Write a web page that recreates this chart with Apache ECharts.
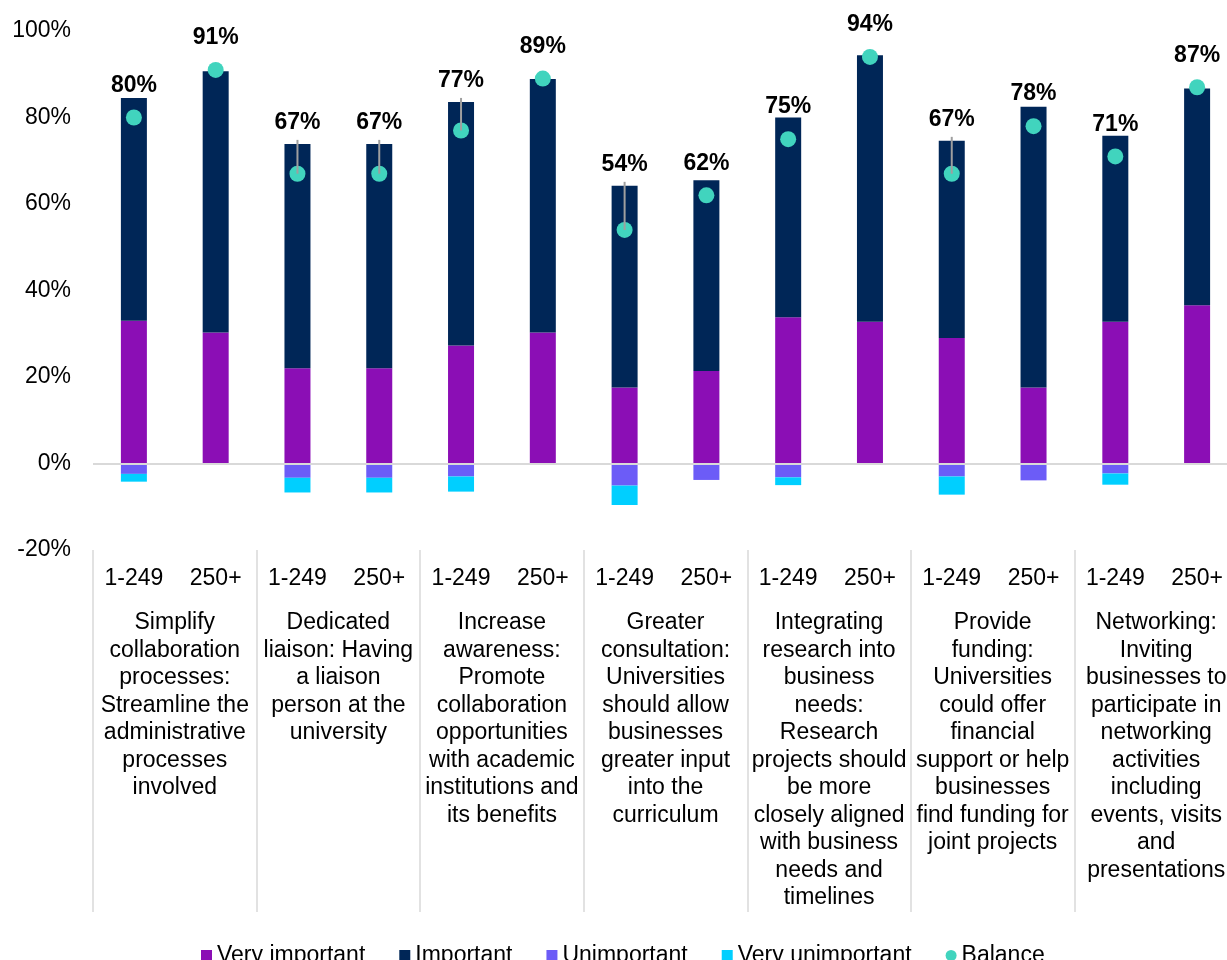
<!DOCTYPE html>
<html>
<head>
<meta charset="utf-8">
<script src="https://cdn.jsdelivr.net/npm/echarts@6/dist/echarts.min.js"></script>
<style>
html,body{margin:0;padding:0;background:#fff;}
#chart{width:1227px;height:960px;}
</style>
</head>
<body>
<div id="chart"></div>
<script>
// ---- data ----
var groups = [
  'Simplify\ncollaboration\nprocesses:\nStreamline the\nadministrative\nprocesses\ninvolved',
  'Dedicated\nliaison: Having\na liaison\nperson at the\nuniversity',
  'Increase\nawareness:\nPromote\ncollaboration\nopportunities\nwith academic\ninstitutions and\nits benefits',
  'Greater\nconsultation:\nUniversities\nshould allow\nbusinesses\ngreater input\ninto the\ncurriculum',
  'Integrating\nresearch into\nbusiness\nneeds:\nResearch\nprojects should\nbe more\nclosely aligned\nwith business\nneeds and\ntimelines',
  'Provide\nfunding:\nUniversities\ncould offer\nfinancial\nsupport or help\nbusinesses\nfind funding for\njoint projects',
  'Networking:\nInviting\nbusinesses to\nparticipate in\nnetworking\nactivities\nincluding\nevents, visits\nand\npresentations'
];
var sizes = ['1-249', '250+'];
var veryImportant   = [33.0, 30.3, 22.0, 22.0, 27.3, 30.3, 17.6, 21.4, 33.8, 32.8, 29.0, 17.6, 32.8, 36.6];
var important       = [51.5, 60.4, 51.9, 51.9, 56.3, 58.6, 46.6, 44.1, 46.2, 61.6, 45.6, 64.9, 43.0, 50.1];
var unimportant     = [-2.4, 0, -3.3, -3.3, -3.0, 0, -5.1, -3.8, -3.2, 0, -3.0, -3.9, -2.3, 0];
var veryUnimportant = [-1.8, 0, -3.4, -3.4, -3.5, 0, -4.5, 0, -1.8, 0, -4.2, 0, -2.6, 0];
var balance         = [80, 91, 67, 67, 77, 89, 54, 62, 75, 94, 67, 78, 71, 87];
var yTicks = { min: -20, max: 100, step: 20 };

// ---- build ----
var FONT = '"Liberation Sans", Arial, sans-serif';
var cats = [];
groups.forEach(function (g, gi) {
  sizes.forEach(function (s) { cats.push(gi + '|' + s); });
});
function nz(arr) { return arr.map(function (v) { return v === 0 ? '-' : v; }); }
var totals = veryImportant.map(function (v, i) { return v + important[i]; });

var chart = echarts.init(document.getElementById('chart'), null, { renderer: 'canvas' });
var option = {
  animation: false,
  backgroundColor: '#ffffff',
  grid: { left: 93, top: 31, width: 1145, height: 519, containLabel: false, outerBoundsMode: 'none' },
  legend: {
    left: 196, top: 939,
    itemWidth: 11, itemHeight: 11, itemGap: 34,
    textStyle: { fontSize: 23, color: '#000', fontFamily: FONT },
    data: [
      { name: 'Very important', icon: 'rect' },
      { name: 'Important', icon: 'rect' },
      { name: 'Unimportant', icon: 'rect' },
      { name: 'Very unimportant', icon: 'rect' },
      { name: 'Balance', icon: 'circle' }
    ]
  },
  xAxis: [
    {
      type: 'category', data: cats, position: 'bottom',
      axisLine: { show: false, onZero: false },
      axisTick: { show: false },
      axisLabel: {
        interval: 0, margin: 17, fontSize: 23, color: '#000', fontFamily: FONT,
        formatter: function (v) { return v.split('|')[1]; }
      }
    },
    {
      type: 'category', data: groups, position: 'bottom',
      axisLine: { show: false, onZero: false },
      axisTick: { show: true, length: 362, interval: 0, lineStyle: { color: '#d9d9d9', width: 1.5 } },
      axisLabel: {
        interval: 0, margin: 59, fontSize: 23, lineHeight: 27.5, color: '#000', fontFamily: FONT, align: 'center'
      }
    }
  ],
  yAxis: {
    type: 'value', min: yTicks.min, max: yTicks.max, interval: yTicks.step,
    axisLine: { show: false }, axisTick: { show: false }, splitLine: { show: false },
    axisLabel: { formatter: '{value}%', fontSize: 23, color: '#000', fontFamily: FONT, margin: 22 }
  },
  series: [
    {
      name: 'Very important', type: 'bar', stack: 'total', barWidth: 26,
      itemStyle: { color: '#8B0EB5' }, data: veryImportant,
      markLine: {
        silent: true, symbol: 'none', label: { show: false },
        lineStyle: { color: '#d9d9d9', width: 2, type: 'solid' },
        data: [{ yAxis: 0 }]
      }
    },
    { name: 'Important', type: 'bar', stack: 'total', barWidth: 26, itemStyle: { color: '#002657' }, data: important },
    { name: 'Unimportant', type: 'bar', stack: 'total', barWidth: 26, itemStyle: { color: '#6C5CF7' }, data: nz(unimportant) },
    { name: 'Very unimportant', type: 'bar', stack: 'total', barWidth: 26, itemStyle: { color: '#00CFFF' }, data: nz(veryUnimportant) },
    {
      name: 'Balance', type: 'scatter', symbolSize: 16, z: 3,
      itemStyle: { color: '#41D4BE', opacity: 1 }, data: balance
    },
    {
      name: 'labels', type: 'custom', z: 5, silent: true,
      data: balance.map(function (v, i) { return [i, v]; }),
      encode: { x: 0, y: 1 },
      renderItem: function (params, api) {
        var i = api.value(0);
        var dot = api.coord([i, api.value(1)]);
        var top = api.coord([i, totals[i]]);
        var moved = (dot[1] - top[1]) > 24;
        var ly = moved ? top[1] - 21 : dot[1] - 32;
        var children = [{
          type: 'text',
          style: {
            text: balance[i] + '%', x: dot[0], y: ly,
            align: 'center', verticalAlign: 'middle',
            font: 'bold 23px ' + FONT, fill: '#000'
          }
        }];
        if (moved) {
          children.push({
            type: 'line',
            shape: { x1: dot[0], y1: ly + 17, x2: dot[0], y2: dot[1] },
            style: { stroke: '#9f9f9f', lineWidth: 2 }
          });
        }
        return { type: 'group', children: children };
      }
    }
  ]
};
chart.setOption(option);
</script>
</body>
</html>
